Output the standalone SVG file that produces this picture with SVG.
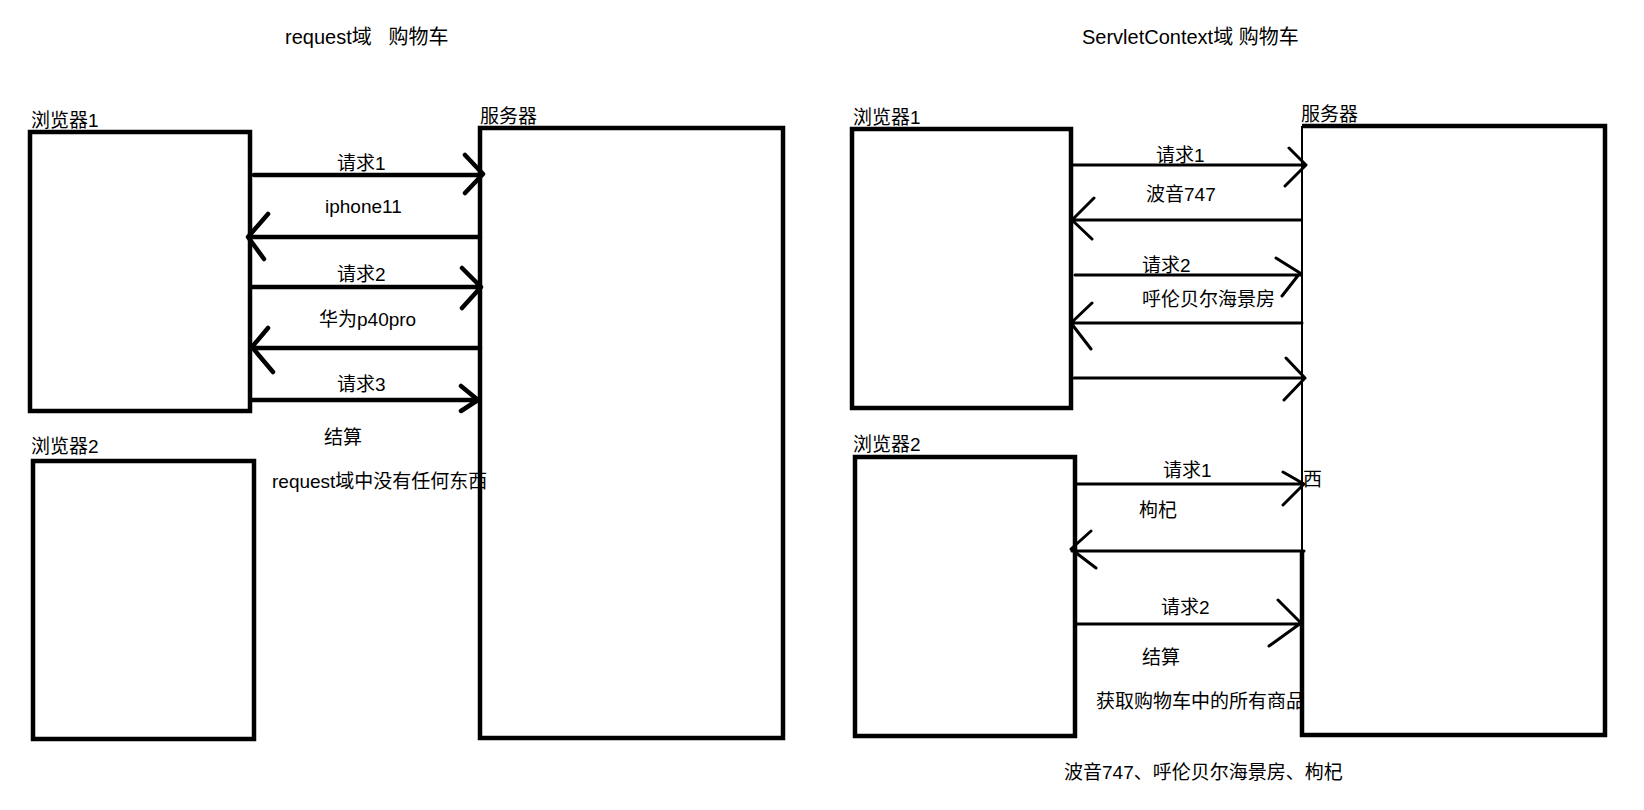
<svg xmlns="http://www.w3.org/2000/svg" width="1644" height="810" viewBox="0 0 1644 810">
<style>
text{font-family:"Liberation Sans","Noto Sans CJK SC",sans-serif;font-size:19px;fill:#000;white-space:pre}
.t{font-size:20px}
.box{fill:none;stroke:#000;stroke-width:4.5}
.thin{fill:none;stroke:#000;stroke-width:2}
.a{fill:none;stroke:#000;stroke-width:4.5;stroke-linecap:round;stroke-linejoin:round}
.b{fill:none;stroke:#000;stroke-width:3;stroke-linecap:round;stroke-linejoin:round}
</style>
<rect width="1644" height="810" fill="#fff"/>
<text class="t" x="285" y="44" xml:space="preserve">request域   购物车</text>
<text class="t" x="1082" y="44">ServletContext域 购物车</text>
<g id="browser1-left"><rect class="box" x="30" y="132" width="220" height="279"/><text x="31" y="127">浏览器1</text></g>
<g id="browser2-left"><rect class="box" x="33" y="461" width="221" height="278"/><text x="31" y="453">浏览器2</text></g>
<g id="server-left"><rect class="box" x="480" y="128" width="303" height="610"/><text x="480" y="123">服务器</text></g>
<g id="browser1-right"><rect class="box" x="852" y="129" width="219" height="279"/><text x="853" y="124">浏览器1</text></g>
<g id="browser2-right"><rect class="box" x="855" y="457" width="220" height="279"/><text x="853" y="451">浏览器2</text></g>
<g id="server-right"><path class="box" d="M1302,126 H1605 V735 H1302 V552"/><path class="thin" d="M1302,126 V552"/><text x="1301" y="121">服务器</text></g>
<g id="connectors">
<path class="a" d="M254,175 H482 M465,155 L483,174 L465,193"/>
<path class="a" d="M480,237 H249 M268,214 L248,237 L264,259"/>
<path class="a" d="M251,287 H480 M462,268 L481,287 L462,308"/>
<path class="a" d="M480,348 H252 M268,328 L252,347 L273,372"/>
<path class="a" d="M251,400 H478 M461,386 L478,400 L461,411"/>
<path class="b" d="M1072,165 H1305 M1289,148 L1306,165 L1285,186"/>
<path class="b" d="M1301,220 H1073 M1094,198 L1072,220 L1092,239"/>
<path class="b" d="M1075,275 H1301 M1276,258 L1300,273 L1282,296"/>
<path class="b" d="M1302,323 H1072 M1092,303 L1071,323 L1091,349"/>
<path class="b" d="M1074,378 H1305 M1286,358 L1305,378 L1284,400"/>
<path class="b" d="M1076,484 H1304 M1283,472 L1304,484 L1283,505"/>
<path class="b" d="M1304,551 H1072 M1091,531 L1071,549 L1096,568"/>
<path class="b" d="M1076,624 H1301 M1278,600 L1301,623 L1269,646"/>
</g>
<g id="labels">
<text x="337" y="170">请求1</text>
<text x="325" y="213">iphone11</text>
<text x="337" y="281">请求2</text>
<text x="319" y="326">华为p40pro</text>
<text x="337" y="391">请求3</text>
<text x="324" y="444">结算</text>
<text x="272" y="488">request域中没有任何东西</text>
<text x="1156" y="162">请求1</text>
<text x="1146" y="201">波音747</text>
<text x="1142" y="272">请求2</text>
<text x="1142" y="306">呼伦贝尔海景房</text>
<text x="1163" y="477">请求1</text>
<text x="1303" y="486">西</text>
<text x="1139" y="517">枸杞</text>
<text x="1161" y="614">请求2</text>
<text x="1142" y="664">结算</text>
<text x="1096" y="708">获取购物车中的所有商品</text>
<text x="1064" y="779">波音747、呼伦贝尔海景房、枸杞</text>
</g>
</svg>
